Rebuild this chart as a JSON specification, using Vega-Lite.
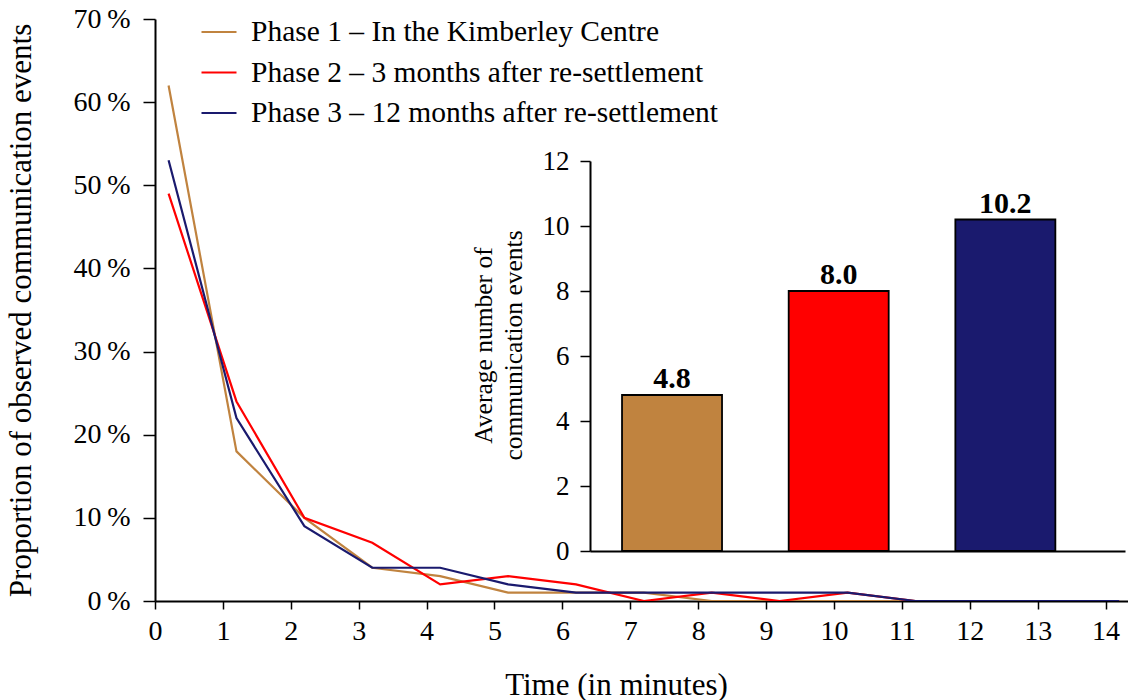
{
  "$schema": "https://vega.github.io/schema/vega-lite/v6.json",
  "width": 973,
  "height": 582,
  "autosize": {"type": "none"},
  "padding": {"left": 155, "top": 19, "right": 0, "bottom": 99},
  "config": {
    "view": {"stroke": null},
    "font": "Liberation Serif",
    "axis": {"labelFont": "Liberation Serif", "titleFont": "Liberation Serif", "labelFontSize": 28, "titleFontSize": 31, "titleFontWeight": "normal", "labelColor": "#000", "titleColor": "#000", "domainColor": "#000", "tickColor": "#000", "grid": false},
    "legend": {"labelFont": "Liberation Serif", "labelFontSize": 29.5, "labelColor": "#000", "labelLimit": 0}
  },
  "layer": [
    {
      "data": {"values": [
        {"t": 0.2, "phase": "Phase 1 – In the Kimberley Centre", "p": 62},
        {"t": 1.2, "phase": "Phase 1 – In the Kimberley Centre", "p": 18},
        {"t": 2.2, "phase": "Phase 1 – In the Kimberley Centre", "p": 10},
        {"t": 3.2, "phase": "Phase 1 – In the Kimberley Centre", "p": 4},
        {"t": 4.2, "phase": "Phase 1 – In the Kimberley Centre", "p": 3},
        {"t": 5.2, "phase": "Phase 1 – In the Kimberley Centre", "p": 1},
        {"t": 6.2, "phase": "Phase 1 – In the Kimberley Centre", "p": 1},
        {"t": 7.2, "phase": "Phase 1 – In the Kimberley Centre", "p": 1},
        {"t": 8.2, "phase": "Phase 1 – In the Kimberley Centre", "p": 0},
        {"t": 9.2, "phase": "Phase 1 – In the Kimberley Centre", "p": 0},
        {"t": 10.2, "phase": "Phase 1 – In the Kimberley Centre", "p": 0},
        {"t": 11.2, "phase": "Phase 1 – In the Kimberley Centre", "p": 0},
        {"t": 12.2, "phase": "Phase 1 – In the Kimberley Centre", "p": 0},
        {"t": 13.2, "phase": "Phase 1 – In the Kimberley Centre", "p": 0},
        {"t": 14.2, "phase": "Phase 1 – In the Kimberley Centre", "p": 0},
        {"t": 0.2, "phase": "Phase 2 – 3 months after re-settlement", "p": 49},
        {"t": 1.2, "phase": "Phase 2 – 3 months after re-settlement", "p": 24},
        {"t": 2.2, "phase": "Phase 2 – 3 months after re-settlement", "p": 10},
        {"t": 3.2, "phase": "Phase 2 – 3 months after re-settlement", "p": 7},
        {"t": 4.2, "phase": "Phase 2 – 3 months after re-settlement", "p": 2},
        {"t": 5.2, "phase": "Phase 2 – 3 months after re-settlement", "p": 3},
        {"t": 6.2, "phase": "Phase 2 – 3 months after re-settlement", "p": 2},
        {"t": 7.2, "phase": "Phase 2 – 3 months after re-settlement", "p": 0},
        {"t": 8.2, "phase": "Phase 2 – 3 months after re-settlement", "p": 1},
        {"t": 9.2, "phase": "Phase 2 – 3 months after re-settlement", "p": 0},
        {"t": 10.2, "phase": "Phase 2 – 3 months after re-settlement", "p": 1},
        {"t": 11.2, "phase": "Phase 2 – 3 months after re-settlement", "p": 0},
        {"t": 12.2, "phase": "Phase 2 – 3 months after re-settlement", "p": 0},
        {"t": 13.2, "phase": "Phase 2 – 3 months after re-settlement", "p": 0},
        {"t": 14.2, "phase": "Phase 2 – 3 months after re-settlement", "p": 0},
        {"t": 0.2, "phase": "Phase 3 – 12 months after re-settlement", "p": 53},
        {"t": 1.2, "phase": "Phase 3 – 12 months after re-settlement", "p": 22},
        {"t": 2.2, "phase": "Phase 3 – 12 months after re-settlement", "p": 9},
        {"t": 3.2, "phase": "Phase 3 – 12 months after re-settlement", "p": 4},
        {"t": 4.2, "phase": "Phase 3 – 12 months after re-settlement", "p": 4},
        {"t": 5.2, "phase": "Phase 3 – 12 months after re-settlement", "p": 2},
        {"t": 6.2, "phase": "Phase 3 – 12 months after re-settlement", "p": 1},
        {"t": 7.2, "phase": "Phase 3 – 12 months after re-settlement", "p": 1},
        {"t": 8.2, "phase": "Phase 3 – 12 months after re-settlement", "p": 1},
        {"t": 9.2, "phase": "Phase 3 – 12 months after re-settlement", "p": 1},
        {"t": 10.2, "phase": "Phase 3 – 12 months after re-settlement", "p": 1},
        {"t": 11.2, "phase": "Phase 3 – 12 months after re-settlement", "p": 0},
        {"t": 12.2, "phase": "Phase 3 – 12 months after re-settlement", "p": 0},
        {"t": 13.2, "phase": "Phase 3 – 12 months after re-settlement", "p": 0},
        {"t": 14.2, "phase": "Phase 3 – 12 months after re-settlement", "p": 0}
      ]},
      "mark": {"type": "line", "strokeWidth": 2.2, "clip": true},
      "encoding": {
        "x": {"field": "t", "type": "quantitative",
          "scale": {"domain": [0, 14.33], "nice": false, "zero": false},
          "axis": {"values": [0,1,2,3,4,5,6,7,8,9,10,11,12,13,14], "format": "d", "tickSize": 8, "tickWidth": 1.5, "domainWidth": 2, "labelPadding": 8, "labelFlush": false,
            "title": "Time (in minutes)", "titleX": 461, "titleY": 84, "titleAlign": "center", "titleBaseline": "middle", "titleAnchor": null}},
        "y": {"field": "p", "type": "quantitative",
          "scale": {"domain": [0, 70], "nice": false},
          "axis": {"values": [0,10,20,30,40,50,60,70], "labelExpr": "datum.value + '\u2009%'", "tickSize": 12, "tickWidth": 1.5, "domainWidth": 2, "labelPadding": 13, "labelFlush": false,
            "title": "Proportion of observed communication events", "titleX": -134, "titleY": 291, "titleAngle": -90, "titleAlign": "center", "titleBaseline": "middle", "titleAnchor": null}},
        "stroke": {"field": "phase", "type": "nominal",
          "scale": {"domain": ["Phase 1 – In the Kimberley Centre", "Phase 2 – 3 months after re-settlement", "Phase 3 – 12 months after re-settlement"], "range": ["#C0833F", "#FF0000", "#1A1A6E"]},
          "legend": {"title": null, "orient": "none", "legendX": 45, "legendY": -6, "symbolType": "stroke", "symbolSize": 1225, "symbolStrokeWidth": 2.2, "labelOffset": 13, "rowPadding": 6.5, "padding": 0}}
      }
    },
    {
      "data": {"values": [
        {"phase": "Phase 1 – In the Kimberley Centre", "avg": 4.8, "label": "4.8"},
        {"phase": "Phase 2 – 3 months after re-settlement", "avg": 8.0, "label": "8.0"},
        {"phase": "Phase 3 – 12 months after re-settlement", "avg": 10.2, "label": "10.2"}
      ]},
      "encoding": {
        "x": {"field": "phase", "type": "nominal", "sort": null,
          "scale": {"range": [435, 970], "paddingInner": 0.4, "paddingOuter": 0.305, "align": 0.315},
          "axis": {"orient": "bottom", "offset": -50, "domain": true, "domainWidth": 2, "ticks": false, "labels": false, "title": null}},
        "y": {"field": "avg", "type": "quantitative",
          "scale": {"domain": [0, 12], "range": [532, 142], "nice": false},
          "axis": {"orient": "left", "offset": -435, "values": [0,2,4,6,8,10,12], "tickSize": 10, "tickWidth": 1.5, "domainWidth": 2, "labelPadding": 11, "labelFontSize": 27,
            "title": ["Average number of", "communication events"], "titleFontSize": 25.5, "titleX": -107, "titleY": 326, "titleAngle": -90, "titleAlign": "center", "titleBaseline": "middle", "titleLineHeight": 30, "titleAnchor": null}}
      },
      "layer": [
        {
          "mark": {"type": "bar", "stroke": "#000", "strokeWidth": 1.8},
          "encoding": {
            "fill": {"field": "phase", "type": "nominal",
              "scale": {"domain": ["Phase 1 – In the Kimberley Centre", "Phase 2 – 3 months after re-settlement", "Phase 3 – 12 months after re-settlement"], "range": ["#C0833F", "#FF0000", "#1A1A6E"]},
              "legend": null}
          }
        },
        {
          "mark": {"type": "text", "font": "Liberation Serif", "fontSize": 30, "fontWeight": "bold", "baseline": "bottom", "dy": -1, "color": "#000"},
          "encoding": {"text": {"field": "label"}}
        }
      ]
    }
  ],
  "resolve": {"scale": {"x": "independent", "y": "independent"}, "axis": {"x": "independent", "y": "independent"}}
}
